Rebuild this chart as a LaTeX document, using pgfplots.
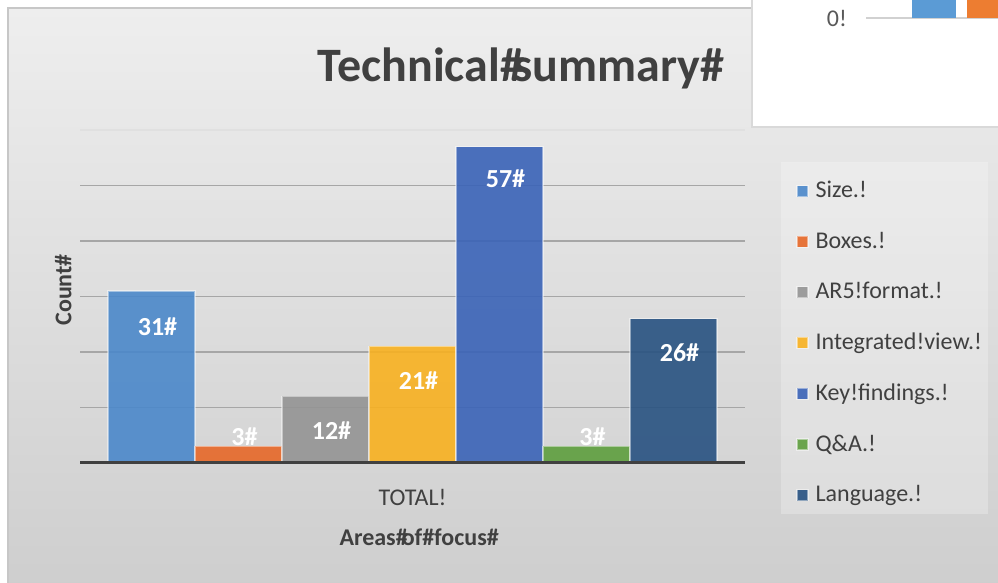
\documentclass[border=0pt]{standalone}
\usepackage{pgfplots}
\pgfplotsset{compat=1.18}
\usepackage{fontspec}
\setmainfont{Carlito}
\definecolor{cSize}{HTML}{4B88CA}
\definecolor{cBox}{HTML}{E66828}
\definecolor{cAR}{HTML}{949494}
\definecolor{cInt}{HTML}{F8B120}
\definecolor{cKey}{HTML}{3A63B7}
\definecolor{cQA}{HTML}{5E9E3E}
\definecolor{cLang}{HTML}{285281}
\definecolor{fSize}{HTML}{5B9BD5}
\definecolor{fBox}{HTML}{ED7D31}
\definecolor{txt}{HTML}{404040}
\definecolor{bgtop}{HTML}{EEEEEE}
\definecolor{bgbot}{HTML}{C8C8C8}
\pgfplotsset{
  barsty/.style={fill=#1, fill opacity=0.9, draw=white, draw opacity=0.45, line width=0.6pt},
  lbl/.style={nodes near coords style={font=\fontsize{13}{15}\selectfont\bfseries, text=white, text opacity=1, fill opacity=1, anchor=center, yshift=#1, xshift=3pt}},
}
\begin{document}
\begin{tikzpicture}
\begin{scope}[x=0.5pt,y=-0.5pt,shift={(0pt,291.5pt)}]
\clip (0,0) rectangle (998,583);
\fill[white] (0,0) rectangle (998,583);
\shade[top color=bgtop, bottom color=bgbot] (8,8) rectangle (1100,700);
\draw[color=black!22, line width=1.2pt] (8,700) -- (8,8) -- (1100,8);
\fill[white, fill opacity=0.25] (781,162) rectangle (988,514);
\end{scope}
\begin{axis}[
  at={(40pt,60pt)}, anchor=south west,
  scale only axis, width=332.5pt, height=166.5pt,
  xmin=-0.822, xmax=6.822, ymin=0, ymax=60,
  axis x line=bottom, axis y line=left,
  x axis line style={draw=txt, line width=1.5pt, -},
  y axis line style={draw=none},
  xtick={3}, xticklabels={TOTAL!},
  xticklabel style={font=\fontsize{12}{14}\selectfont, text=txt, yshift=-9.5pt},
  major tick length=0pt,
  ytick={10,20,30,40,50}, yticklabels={},
  ymajorgrids, major grid style={draw=black!35, line width=0.9pt},
  extra y ticks={60}, extra y tick labels={},
  extra y tick style={grid=major, major grid style={draw=black!12, line width=0.9pt}},
  clip=false,
  ybar, bar width=1, bar shift=0pt,
  xlabel={\textbf{Areas\#\kern-0.25em of\#focus\#}},
  xlabel style={font=\fontsize{12}{14}\selectfont, text=txt, at={(axis description cs:0.51,0)}, anchor=north, yshift=-29.5pt},
  ylabel={\textbf{Count\#}},
  ylabel style={font=\fontsize{12}{14}\selectfont, text=txt, at={(axis description cs:-0.002,0.52)}, anchor=south},
  legend style={at={(1.0541,0.8919)}, anchor=north west, draw=none, fill=none, text opacity=1,
    font=\fontsize{12}{14}\selectfont, text=txt, row sep=11.6pt, inner xsep=7.5pt, inner ysep=5.5pt,
    nodes={inner sep=2pt, anchor=west}, legend cell align=left},
  legend image code/.code={\draw[#1] (0pt,-2.75pt) rectangle (5.5pt,2.75pt); \path (7pt,0pt);},
]
\addplot[barsty=cSize, nodes near coords={31\#}, lbl=-18pt] coordinates {(0,31)};
\addplot[barsty=cBox, nodes near coords={3\#}, lbl=5pt] coordinates {(1,3)};
\addplot[barsty=cAR, nodes near coords={12\#}, lbl=-17pt] coordinates {(2,12)};
\addplot[barsty=cInt, nodes near coords={21\#}, lbl=-17pt] coordinates {(3,21)};
\addplot[barsty=cKey, nodes near coords={57\#}, lbl=-16pt] coordinates {(4,57)};
\addplot[barsty=cQA, nodes near coords={3\#}, lbl=5pt] coordinates {(5,3)};
\addplot[barsty=cLang, nodes near coords={26\#}, lbl=-17pt] coordinates {(6,26)};
\legend{Size.!, Boxes.!, AR5!format.!, Integrated!view.!, Key!findings.!, Q\&A.!, Language.!}
\draw[txt, line width=1.5pt] (rel axis cs:0,0) -- (rel axis cs:1,0);
\end{axis}
\begin{scope}[x=0.5pt,y=-0.5pt,shift={(0pt,291.5pt)}]
\node[font=\fontsize{24}{28}\selectfont\bfseries, text=txt] at (521,68) {Technical\#\kern-0.22em summary\#};
\clip (0,0) rectangle (998,583);
\filldraw[fill=white, draw=black!15, line width=1pt] (752,-10) rectangle (1100,127);
\end{scope}
% overlapping fragment of another chart
\begin{axis}[
  at={(433pt,282.5pt)}, anchor=south west,
  scale only axis, width=66pt, height=9pt,
  xmin=-0.236, xmax=2.164, ymin=0, ymax=1,
  axis x line=bottom, axis y line=left,
  x axis line style={draw=black!18, line width=0.9pt, -},
  y axis line style={draw=none},
  xtick=\empty, ytick={0}, yticklabels={0!},
  yticklabel style={font=\fontsize{12}{14}\selectfont, text=black!65, xshift=-6pt},
  major tick length=0pt,
  ybar, bar width=0.8, bar shift=0pt, clip=true,
]
\addplot[fill=fSize, draw=none] coordinates {(1,5)};
\addplot[fill=fBox, draw=none] coordinates {(2,5)};
\end{axis}
\pgfresetboundingbox
\useasboundingbox (0pt,0pt) rectangle (499pt,291.5pt);
\end{tikzpicture}
\end{document}
